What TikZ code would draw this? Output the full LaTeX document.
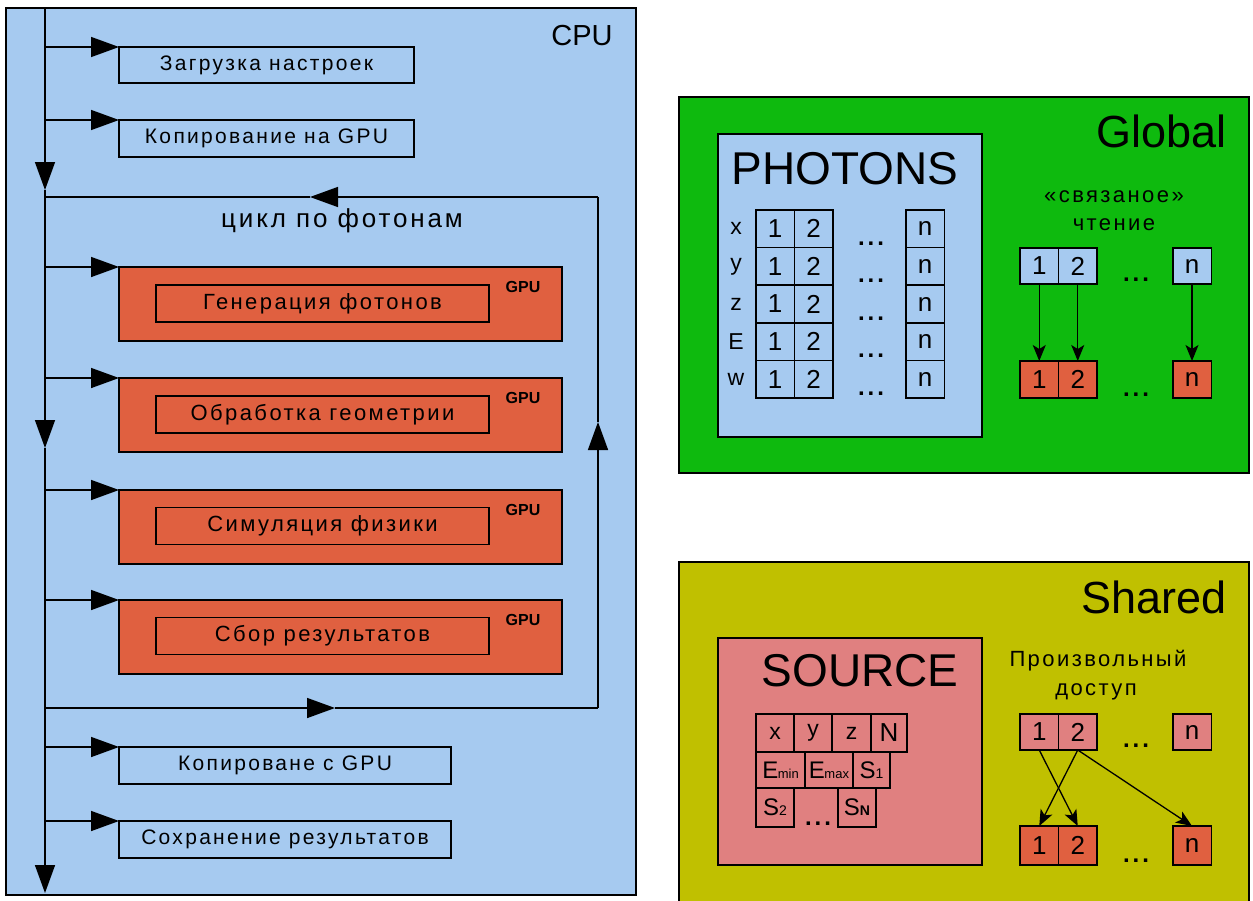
\documentclass[tikz,border=0pt]{standalone}
\usepackage{fontspec}
\setmainfont{Liberation Sans}
\newfontfamily\spacedfont[LetterSpace=11]{Liberation Sans}
\usetikzlibrary{arrows.meta}
\definecolor{cpublue}{RGB}{166,202,240}
\definecolor{gpured}{RGB}{224,96,64}
\definecolor{glgreen}{RGB}{14,186,14}
\definecolor{shyellow}{RGB}{192,192,0}
\definecolor{srcpink}{RGB}{224,128,128}
\newcommand\setfs[1]{\fontsize{#1}{#1}\selectfont}
\newcommand\dotsmark{\setfs{24}\bfseries .\hspace{3pt}.\hspace{3pt}.}
\begin{document}
\begin{tikzpicture}[x=1pt,y=-1pt,line width=1.5pt,
  bigarr/.style={-{Triangle[length=28pt,width=20pt]}},
  smallarr/.style={line width=1.3pt,-{Stealth[length=16pt,width=13pt,inset=4pt]}},
  rect/.style={draw,inner sep=0pt,outer sep=0pt},
  cpustep/.style={rect,fill=cpublue,font=\spacedfont\setfs{21}},
  gpuouter/.style={rect,fill=gpured,minimum width=443pt,minimum height=74pt},
  gpuinner/.style={rect,fill=gpured,minimum width=333pt,minimum height=37pt,font=\spacedfont\setfs{22}},
  gpulbl/.style={font=\setfs{16}\bfseries,inner sep=0pt},
  cell/.style={rect,minimum width=38.5pt,minimum height=37.6pt,font=\setfs{26}},
  bcell/.style={cell,fill=cpublue},
  rcell/.style={cell,fill=gpured},
  pcell/.style={cell,fill=srcpink},
  lbl/.style={inner sep=0pt},
  dotlbl/.style={inner sep=0pt,anchor=base},
]
\useasboundingbox (0,0) rectangle (1253,900);
% ---------------- CPU ----------------
\node[rect,fill=cpublue,minimum width=630pt,minimum height=887pt] (cpu) at (321,451.5) {};
\node[lbl,font=\setfs{29}] (cpulbl) at (582,36) {CPU};
\node[cpustep,minimum width=295pt,minimum height=36pt] (b1) at (266.5,65) {Загрузка настроек};
\node[cpustep,minimum width=295pt,minimum height=37pt] (b2) at (266.5,138.5) {Копирование на GPU};
\node[lbl,font=\spacedfont\setfs{26}] (loop) at (342,221) {цикл по фотонам};
\node[gpuouter] (g1) at (340.5,304) {};
\node[gpuouter] (g2) at (340.5,415) {};
\node[gpuouter] (g3) at (340.5,527) {};
\node[gpuouter] (g4) at (340.5,637) {};
\node[gpuinner] (i1) at (322.5,303.5) {Генерация фотонов};
\node[gpuinner] (i2) at (322.5,414.5) {Обработка геометрии};
\node[gpuinner] (i3) at (322.5,526) {Симуляция физики};
\node[gpuinner] (i4) at (322.5,636) {Сбор результатов};
\node[gpulbl] (l1) at (523,287) {GPU};
\node[gpulbl] (l2) at (523,398) {GPU};
\node[gpulbl] (l3) at (523,510) {GPU};
\node[gpulbl] (l4) at (523,620) {GPU};
\node[cpustep,minimum width=332pt,minimum height=37pt] (b5) at (285,765.5) {Копироване с GPU};
\node[cpustep,minimum width=332pt,minimum height=37pt] (b6) at (285,839.5) {Сохранение результатов};
% main line coordinates
\coordinate (mtop) at (45,8);
\coordinate (md1) at (45,190);
\coordinate (md2) at (45,448);
\coordinate (mbot) at (45,893);
\coordinate (ltl) at (45,197);
\coordinate (ltm) at (310,197);
\coordinate (ltr) at (598,197);
\coordinate (lru) at (598,422);
\coordinate (lbr) at (598,708);
\coordinate (lbm) at (335,708);
\coordinate (lbl) at (45,708);
\draw[bigarr] (mtop) -- (md1);
\draw[bigarr] (md1) -- (md2);
\draw[bigarr] (md2) -- (mbot);
\draw[bigarr] (ltr) -- (ltm);
\draw (ltm) -- (ltl);
\draw[bigarr] (lbr) -- (lru);
\draw (lru) -- (ltr);
\draw[bigarr] (lbl) -- (lbm);
\draw (lbm) -- (lbr);
\foreach \n in {b1,b2,g1,g2,g3,g4,b5,b6}{
  \draw[bigarr] (mtop |- \n.north west) -- (\n.north west);
}
% ---------------- Global ----------------
\node[rect,fill=glgreen,minimum width=570pt,minimum height=376pt] (glob) at (964,285) {};
\node[lbl,font=\setfs{45},anchor=east] (globlbl) at (1227,131) {Global};
\node[rect,fill=cpublue,minimum width=264pt,minimum height=303pt] (phot) at (850,285.5) {};
\node[lbl,font=\setfs{46}] (photlbl) at (845,169) {PHOTONS};
\foreach \r/\t [count=\i from 0] in {x/x,y/y,z/z,E/E,w/w}{
  \pgfmathsetmacro\cy{228.8+37.6*\i}
  \node[lbl,font=\setfs{23}] (rl\i) at (736,\cy) {\t};
  \node[bcell] (pa\i) at (775,\cy) {1};
  \node[bcell] (pb\i) at (813.5,\cy) {2};
  \node[bcell] (pn\i) at (925,\cy) {n};
  \pgfmathsetmacro\dy{248+37.6*\i-3}
  \node[dotlbl] (pd\i) at (871,\dy) {\dotsmark};
}
\node[lbl,font=\spacedfont\setfs{22}] (sv1) at (1114,197) {«связаное»};
\node[lbl,font=\spacedfont\setfs{22}] (sv2) at (1114,225) {чтение};
\node[bcell,minimum height=36pt] (gt1) at (1039.25,266) {1};
\node[bcell,minimum height=36pt] (gt2) at (1077.75,266) {2};
\node[bcell,minimum height=36pt] (gtn) at (1192,266) {n};
\node[rcell,minimum height=37pt] (gb1) at (1039.25,379.5) {1};
\node[rcell,minimum height=37pt] (gb2) at (1077.75,379.5) {2};
\node[rcell,minimum height=37pt] (gbn) at (1192,379.5) {n};
\node[dotlbl] (gd1) at (1136,281) {\dotsmark};
\node[dotlbl] (gd2) at (1136,396) {\dotsmark};
\draw[smallarr] (gt1.south) -- (gb1.north);
\draw[smallarr] (gt2.south) -- (gb2.north);
\draw[smallarr] (gtn.south) -- (gbn.north);
% ---------------- Shared ----------------
\node[rect,fill=shyellow,minimum width=570pt,minimum height=345pt] (shar) at (964,734.5) {};
\node[lbl,font=\setfs{45},anchor=east] (sharlbl) at (1227,597) {Shared};
\node[rect,fill=srcpink,minimum width=264pt,minimum height=227pt] (src) at (850,751.5) {};
\node[lbl,font=\setfs{46}] (srclbl) at (860,671) {SOURCE};
\node[pcell,minimum width=38pt,minimum height=38pt,font=\setfs{23}] (sx) at (775,733) {x};
\node[pcell,minimum width=38pt,minimum height=38pt,font=\setfs{23}] (sy) at (813,733) {y};
\node[pcell,minimum width=39pt,minimum height=38pt,font=\setfs{23}] (sz) at (851.5,733) {z};
\node[pcell,minimum width=36pt,minimum height=38pt,font=\setfs{26}] (sN) at (889,733) {N};
\node[pcell,minimum width=49pt,minimum height=36pt,font=\setfs{24}] (emin) at (780.5,770) {E\kern-0.5pt{\setfs{13}min}};
\node[pcell,minimum width=48pt,minimum height=36pt,font=\setfs{24}] (emax) at (829,770) {E\kern-0.5pt{\setfs{13}max}};
\node[pcell,minimum width=37pt,minimum height=36pt,font=\setfs{24}] (s1) at (871.5,770) {S{\setfs{14}1}};
\node[pcell,minimum width=38pt,minimum height=39pt,font=\setfs{24}] (s2) at (775,807.5) {S{\setfs{14}2}};
\node[pcell,minimum width=38pt,minimum height=39pt,font=\setfs{24}] (sn) at (857,807.5) {S{\setfs{14}\bfseries N}};
\node[dotlbl] (sd) at (818,825) {\dotsmark};
\node[lbl,font=\spacedfont\setfs{22}] (pr1) at (1098,661) {Произвольный};
\node[lbl,font=\spacedfont\setfs{22}] (pr2) at (1096,692) {доступ};
\node[pcell,minimum height=36pt] (st1) at (1039.25,732) {1};
\node[pcell,minimum height=36pt] (st2) at (1077.75,732) {2};
\node[pcell,minimum height=36pt] (stn) at (1192,732) {n};
\node[rcell,minimum height=39pt] (sb1) at (1039.25,845.5) {1};
\node[rcell,minimum height=39pt] (sb2) at (1077.75,845.5) {2};
\node[rcell,minimum height=39pt] (sbn) at (1192,845.5) {n};
\node[dotlbl] (sd1) at (1136,747) {\dotsmark};
\node[dotlbl] (sd2) at (1136,862) {\dotsmark};
\draw[smallarr] (st1.south) -- (sb2.north);
\draw[smallarr] (st2.south) -- (sb1.north);
\draw[smallarr] (st2.south) -- (sbn.north);
\end{tikzpicture}
\end{document}
